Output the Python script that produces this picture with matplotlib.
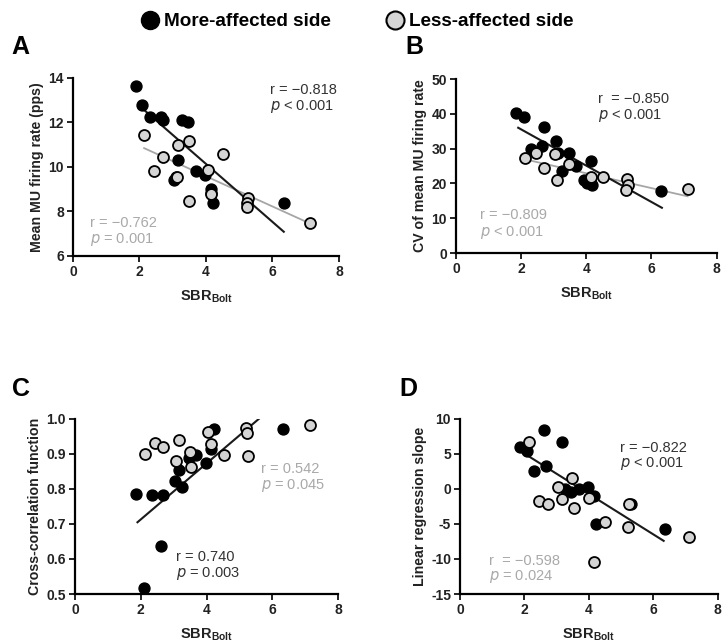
import numpy as np
import matplotlib
matplotlib.use('Agg')
import matplotlib.pyplot as plt
from matplotlib.lines import Line2D

plt.rcParams['font.family'] = 'Liberation Sans'
plt.rcParams['mathtext.fontset'] = 'custom'
plt.rcParams['mathtext.rm'] = 'Liberation Sans:bold'
plt.rcParams['mathtext.bf'] = 'Liberation Sans:bold'
plt.rcParams['axes.unicode_minus'] = False

GRAY_FILL = '#d4d4d4'
GRAY_LINE = '#a6a6a6'
GRAY_TEXT = '#a9a9a9'
DARK_TEXT = '#333333'

# ---------------- data ----------------
# A: mean MU firing rate
a_more_x = [1.90, 2.07, 2.32, 2.64, 2.72, 3.27, 3.47, 3.17, 3.09, 3.04, 3.69, 3.97, 4.15, 4.14, 4.22, 6.34]
a_more_y = [13.65, 12.80, 12.25, 12.25, 12.10, 12.10, 12.00, 10.30, 9.57, 9.40, 9.83, 9.65, 9.00, 8.85, 8.40, 8.40]
a_less_x = [2.14, 3.17, 3.49, 2.70, 2.44, 3.12, 4.07, 4.52, 3.50, 4.14, 5.27, 5.22, 5.22, 7.12]
a_less_y = [11.43, 11.00, 11.18, 10.45, 9.83, 9.57, 9.87, 10.60, 8.47, 8.80, 8.60, 8.37, 8.20, 7.50]

# B: CV of mean MU firing rate
b_more_x = [1.84, 2.08, 2.69, 2.30, 2.63, 3.06, 3.14, 3.47, 3.26, 3.67, 4.14, 3.94, 4.02, 4.19, 6.30]
b_more_y = [40.3, 39.0, 36.1, 30.0, 30.8, 32.1, 28.8, 28.6, 23.5, 25.0, 26.5, 20.9, 20.0, 19.5, 17.9]
b_less_x = [2.13, 2.47, 3.04, 2.69, 3.11, 3.48, 4.15, 4.50, 5.24, 5.27, 5.21, 7.11]
b_less_y = [27.4, 28.8, 28.4, 24.5, 21.1, 25.5, 21.8, 21.8, 21.4, 19.5, 18.0, 18.3]

# C: cross-correlation function
c_more_x = [1.87, 2.33, 2.68, 2.63, 2.09, 3.03, 3.16, 3.26, 3.47, 3.69, 3.98, 4.15, 4.23, 6.33]
c_more_y = [0.786, 0.783, 0.783, 0.638, 0.518, 0.824, 0.855, 0.807, 0.888, 0.898, 0.874, 0.914, 0.971, 0.971]
c_less_x = [2.14, 2.44, 2.68, 3.15, 3.06, 3.49, 3.52, 4.05, 4.15, 4.52, 5.21, 5.23, 5.26, 7.14]
c_less_y = [0.901, 0.931, 0.919, 0.939, 0.881, 0.905, 0.864, 0.963, 0.929, 0.896, 0.974, 0.960, 0.895, 0.984]

# D: linear regression slope
d_more_x = [1.87, 2.07, 2.61, 2.31, 2.68, 3.15, 3.25, 3.45, 3.68, 3.98, 4.17, 4.21, 6.35, 5.30]
d_more_y = [5.99, 5.37, 8.38, 2.60, 3.22, 6.71, -0.02, -0.50, 0.03, 0.22, -1.07, -5.03, -5.70, -2.12]
d_less_x = [2.15, 2.44, 2.72, 3.05, 3.15, 3.46, 3.53, 4.00, 4.17, 4.51, 5.23, 5.20, 7.11]
d_less_y = [6.66, -1.78, -2.17, 0.22, -1.45, 1.55, -2.74, -1.31, -10.37, -4.74, -2.12, -5.36, -6.79]

# regression lines: (slope, intercept, x_start, x_end), None = not drawn
fit_more = [(-1.303, 15.35, 2.02, 6.34), (-5.215, 45.96, 1.91, 6.32),
            (0.080, 0.553, 1.90, 5.60), (-2.884, 10.82, 1.92, 6.32)]
fit_less = [(-0.679, 12.30, 2.14, 7.12), (-2.129, 31.43, 2.13, 7.11),
            None, None]

# stats text: (r line, p-symbol, p-rest)
stats_more = [('r = \u22120.818', '<', '0.001'), ('r  = \u22120.850', '<', '0.001'),
              ('r = 0.740', '=', '0.003'), ('r = \u22120.822', '<', '0.001')]
stats_less = [('r = \u22120.762', '=', '0.001'), ('r = \u22120.809', '<', '0.001'),
              ('r = 0.542', '=', '0.045'), ('r  = \u22120.598', '=', '0.024')]

ylabels = ['Mean MU firing rate (pps)', 'CV of mean MU firing rate',
           'Cross-correlation function', 'Linear regression slope']
ylims = [(6, 14), (0, 50), (0.5, 1.0), (-15, 10)]
yticks = [[6, 8, 10, 12, 14], [0, 10, 20, 30, 40, 50],
          [0.5, 0.6, 0.7, 0.8, 0.9, 1.0], [-15, -10, -5, 0, 5, 10]]
ytick_labels = [['6', '8', '10', '12', '14'], ['0', '10', '20', '30', '40', '50'],
                ['0.5', '0.6', '0.7', '0.8', '0.9', '1.0'], ['-15', '-10', '-5', '0', '5', '10']]
letters = ['A', 'B', 'C', 'D']

# text anchor positions in data coords (x, y of r line, y of p line)
pos_more = [(5.94, 13.47, 12.72), (4.37, 44.2, 39.6), (3.08, 0.607, 0.559), (4.95, 5.85, 3.6)]
pos_less = [(0.50, 7.47, 6.73), (0.73, 10.8, 6.0), (5.65, 0.857, 0.810), (0.91, -10.23, -12.52)]

more_x = [a_more_x, b_more_x, c_more_x, d_more_x]
more_y = [a_more_y, b_more_y, c_more_y, d_more_y]
less_x = [a_less_x, b_less_x, c_less_x, d_less_x]
less_y = [a_less_y, b_less_y, c_less_y, d_less_y]

# ---------------- layout ----------------
fig = plt.figure(figsize=(7.24, 6.43), dpi=100)
rects = [[0.1008, 0.6019, 0.3674, 0.2768],
         [0.6298, 0.6065, 0.3600, 0.2706],
         [0.1036, 0.0762, 0.3633, 0.2722],
         [0.6354, 0.0762, 0.3560, 0.2722]]
letter_pos = [(0.016, 0.927), (0.560, 0.927), (0.016, 0.395), (0.551, 0.395)]

for i in range(4):
    ax = fig.add_axes(rects[i])
    ax.spines['top'].set_visible(False)
    ax.spines['right'].set_visible(False)
    ax.spines['left'].set_linewidth(1.6)
    ax.spines['bottom'].set_linewidth(1.6)
    ax.tick_params(width=1.4, length=4, pad=2.5, labelsize=10, colors='#222222')

    # regression lines
    if fit_less[i] is not None:
        s, b, x0, x1 = fit_less[i]
        xs = np.array([x0, x1])
        ax.plot(xs, s * xs + b, color=GRAY_LINE, lw=1.3, zorder=2)
    if fit_more[i] is not None:
        s, b, x0, x1 = fit_more[i]
        xs = np.array([x0, x1])
        ax.plot(xs, s * xs + b, color='#1a1a1a', lw=1.5, zorder=2)

    ax.scatter(more_x[i], more_y[i], s=62, color='black', edgecolor='black',
               linewidth=1.0, zorder=3, clip_on=False)
    ax.scatter(less_x[i], less_y[i], s=62, color=GRAY_FILL, edgecolor='black',
               linewidth=1.3, zorder=4, clip_on=False)

    ax.set_xlim(0, 8)
    ax.set_xticks([0, 2, 4, 6, 8])
    ax.set_xticklabels(['0', '2', '4', '6', '8'], fontweight='bold')
    ax.set_ylim(*ylims[i])
    ax.set_yticks(yticks[i])
    ax.set_yticklabels(ytick_labels[i], fontweight='bold')
    ax.set_ylabel(ylabels[i], fontsize=10.2, fontweight='bold', color='#222222', labelpad=3)
    ax.set_xlabel(r'$\mathrm{SBR}_{\mathrm{Bolt}}$', fontsize=10.5, color='#222222', labelpad=7)

    # stats text
    x, yr, yp = pos_more[i]
    r, sym, pv = stats_more[i]
    ax.text(x, yr, r, fontsize=10.5, color=DARK_TEXT, va='center')
    ax.text(x, yp, '$\\it{p}$ ' + sym + ' ' + pv, fontsize=10.5, color=DARK_TEXT, va='center',
            math_fontfamily='dejavusans')
    x, yr, yp = pos_less[i]
    r, sym, pv = stats_less[i]
    ax.text(x, yr, r, fontsize=10.5, color=GRAY_TEXT, va='center')
    ax.text(x, yp, '$\\it{p}$ ' + sym + ' ' + pv, fontsize=10.5, color=GRAY_TEXT, va='center',
            math_fontfamily='dejavusans')

    fig.text(letter_pos[i][0], letter_pos[i][1], letters[i], fontsize=18,
             fontweight='bold', ha='left', va='center')

# legend at top
handles = [Line2D([], [], marker='o', ls='none', markersize=13, color='black'),
           Line2D([], [], marker='o', ls='none', markersize=13,
                  markerfacecolor=GRAY_FILL, markeredgecolor='black', markeredgewidth=1.5)]
fig.legend(handles, ['More-affected side', 'Less-affected side'], ncol=2,
           loc='center', bbox_to_anchor=(0.493, 0.966), frameon=False,
           prop={'weight': 'bold', 'size': 13.6}, handletextpad=0.25, columnspacing=2.9,
           handlelength=1.0)

fig.savefig('out.png', dpi=100)
